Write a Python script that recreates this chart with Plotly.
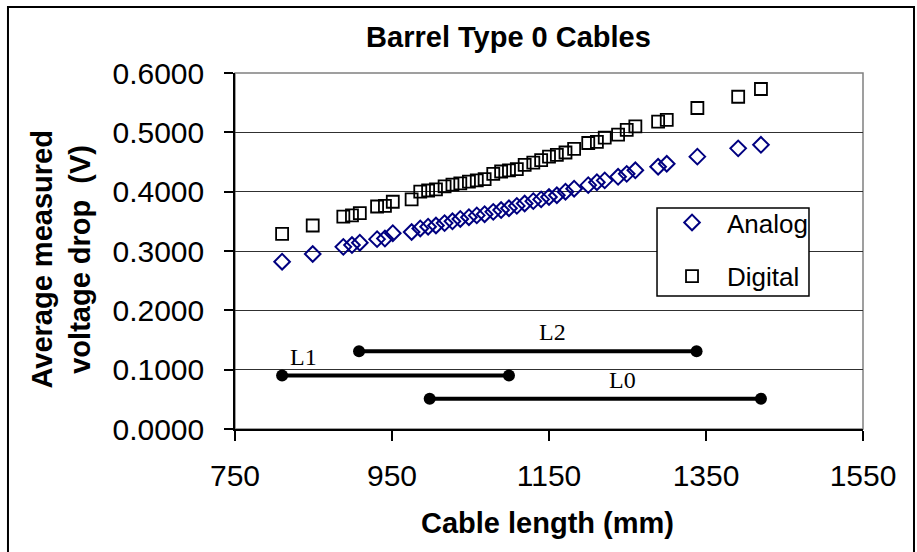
import plotly.graph_objects as go

# ---- data ----
cable_length = [810, 849, 888, 899, 909, 931, 941, 951, 975, 986,
                996, 1006, 1017, 1027, 1037, 1048, 1058, 1068, 1079, 1089,
                1099, 1109, 1119, 1130, 1140, 1150, 1160, 1171, 1182, 1200,
                1211, 1221, 1238, 1249, 1260, 1289, 1300, 1339, 1391, 1420]

analog = [0.282, 0.295, 0.307, 0.310, 0.314, 0.320, 0.321, 0.330, 0.332, 0.338,
          0.341, 0.343, 0.347, 0.350, 0.354, 0.357, 0.360, 0.362, 0.366, 0.369,
          0.372, 0.376, 0.380, 0.384, 0.387, 0.391, 0.394, 0.400, 0.405, 0.411,
          0.416, 0.419, 0.425, 0.430, 0.436, 0.442, 0.447, 0.459, 0.473, 0.479]

digital = [0.329, 0.343, 0.358, 0.360, 0.364, 0.375, 0.376, 0.383, 0.387, 0.400,
           0.402, 0.404, 0.409, 0.412, 0.414, 0.417, 0.419, 0.421, 0.430, 0.434,
           0.436, 0.438, 0.445, 0.449, 0.453, 0.459, 0.462, 0.466, 0.472, 0.482,
           0.484, 0.491, 0.496, 0.504, 0.510, 0.518, 0.521, 0.541, 0.560, 0.573]

range_names = ["L2", "L1", "L0"]
range_start = [908, 810, 998]
range_end = [1338, 1099, 1420]
range_level = [0.131, 0.090, 0.051]
label_x = [1154, 837, 1244]
label_y = [0.164, 0.122, 0.082]

x_ticks = [750, 950, 1150, 1350, 1550]
y_ticks = [0.0, 0.1, 0.2, 0.3, 0.4, 0.5, 0.6]

SANS = "Liberation Sans, Arial, sans-serif"
SERIF = "Liberation Serif, Times New Roman, serif"

fig = go.Figure()

# range bars
for name, x0, x1, lvl in zip(range_names, range_start, range_end, range_level):
    fig.add_trace(go.Scatter(
        x=[x0, x1], y=[lvl, lvl], mode="lines+markers",
        line=dict(color="black", width=4),
        marker=dict(color="black", size=12, symbol="circle"),
        showlegend=False, hoverinfo="skip", name=name))

fig.add_trace(go.Scatter(
    x=cable_length, y=analog, mode="markers", name="Analog",
    legendgroup="a",
    marker=dict(symbol="diamond-open", size=12, color="#000080",
                line=dict(width=2, color="#000080"))))
fig.add_trace(go.Scatter(
    x=cable_length, y=digital, mode="markers", name="Digital",
    legendgroup="d",
    marker=dict(symbol="square-open", size=12, color="black",
                line=dict(width=1.8, color="black"))))

for name, lx, ly in zip(range_names, label_x, label_y):
    fig.add_annotation(x=lx, y=ly, xref="x", yref="y", text=name,
                       showarrow=False, xanchor="center", yanchor="middle",
                       font=dict(family=SERIF, size=24, color="black"))

# axis titles
fig.add_annotation(x=-0.277, y=0.476, xref="paper", yref="paper",
                   text="<b>Average measured<br>voltage drop  (V)</b>",
                   textangle=-90, showarrow=False, xanchor="center", yanchor="middle",
                   font=dict(family=SANS, size=29, color="black"))
fig.add_annotation(x=0.497, y=-0.264, xref="paper", yref="paper",
                   text="<b>Cable length (mm)</b>",
                   showarrow=False, xanchor="center", yanchor="middle",
                   font=dict(family=SANS, size=29, color="black"))

# plot-area border (top/right grey)
fig.add_shape(type="rect", xref="paper", yref="paper", x0=0, y0=0, x1=1, y1=1,
              line=dict(color="#808080", width=1.5), layer="below")
# legend box
fig.add_shape(type="rect", xref="paper", yref="paper",
              x0=0.672, y0=0.3736, x1=0.914, y1=0.621,
              line=dict(color="black", width=1.5), fillcolor="white", layer="above")
# outer frame
fig.add_shape(type="rect", xref="paper", yref="paper",
              x0=-0.3615, y0=-0.37, x1=1.0812, y1=1.1854,
              line=dict(color="black", width=2))

fig.update_layout(
    width=917, height=552,
    margin=dict(l=235, r=54, t=73, b=123),
    paper_bgcolor="white", plot_bgcolor="white",
    font=dict(family=SANS, color="black"),
    title=dict(text="<b>Barrel Type 0 Cables</b>", x=0.4355, xref="paper",
               xanchor="center", y=1 - 37 / 552, yanchor="middle",
               font=dict(family=SANS, size=29, color="black")),
    legend=dict(x=0.672, y=0.646, xanchor="left", yanchor="top",
                bgcolor="rgba(0,0,0,0)", borderwidth=0,
                font=dict(family=SANS, size=26, color="black"),
                itemwidth=60, traceorder="grouped", tracegroupgap=17),
    xaxis=dict(range=[750, 1550], tickvals=x_ticks, ticktext=[str(v) for v in x_ticks],
               showgrid=False, zeroline=False, showline=True, linecolor="black",
               linewidth=1.5, ticks="outside", ticklen=10, tickcolor="black",
               tickwidth=1.5, tickfont=dict(family=SANS, size=30, color="black"),
               ticklabelstandoff=9),
    yaxis=dict(range=[0, 0.6], tickvals=y_ticks, tickformat=".4f",
               showgrid=True, gridcolor="#303030", gridwidth=1,
               zeroline=False, showline=True, linecolor="black", linewidth=1.5,
               ticks="outside", ticklen=9, tickcolor="black", tickwidth=1.5,
               tickfont=dict(family=SANS, size=30, color="black"),
               ticklabelstandoff=14),
)

fig.write_html("out.html",
               config={"displayModeBar": False},
               post_script="document.body.style.margin='0';document.body.style.overflow='hidden';")
